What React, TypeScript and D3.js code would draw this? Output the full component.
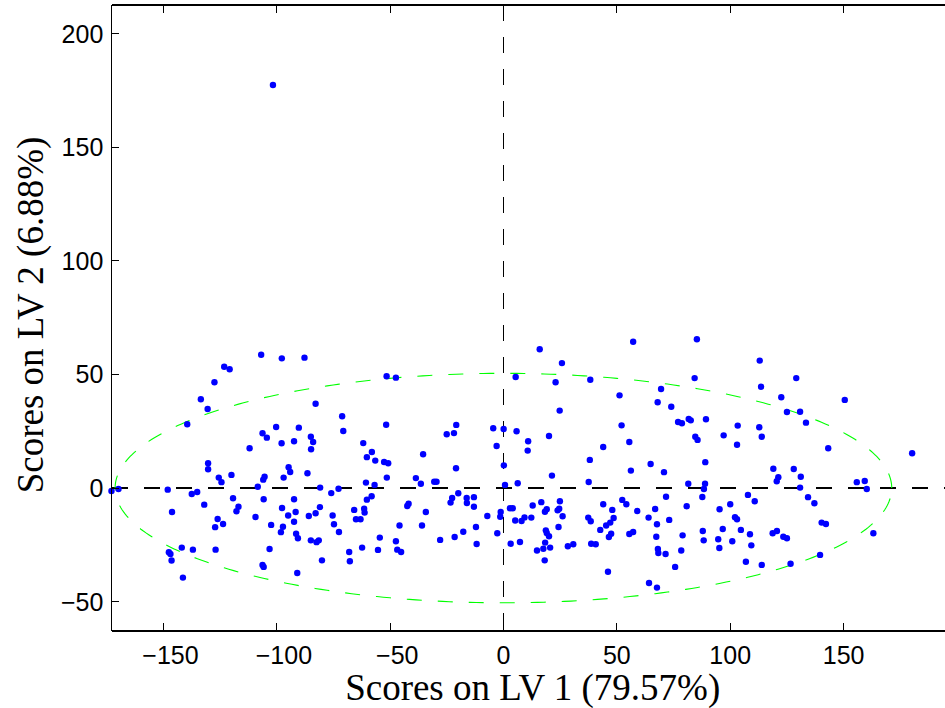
import React from 'react';
import * as d3 from 'd3';

const scoresLV1 = [
  -123.1, -120.7, -127.4, -133.4, -130.4, -139.4, -111.9, -130.2, -130.2, -125.5,
  -124.3, -119.9, -172.8, -169.7, -148.0, -137.4, -135.0, -131.9, -146.1, -119.2,
  -116.8, -117.7, -126.0, -127.1, -123.6, -141.8, -147.5, -146.8, -146.3, -136.9,
  -126.9, -141.3, -106.8, -97.7, -87.7, -51.5, -82.8, -71.1, -70.6, -51.7,
  -106.2, -104.3, -100.2, -90.2, -97.8, -92.3, -84.9, -83.9, -84.8, -61.8,
  -58.0, -60.2, -56.5, -52.6, -50.8, -94.7, -94.0, -86.4, -105.3, -105.9,
  -96.9, -108.3, -51.4, -60.6, -56.8, -80.8, -72.7, -75.9, -58.1, -60.2,
  -105.7, -92.3, -109.3, -97.6, -91.6, -94.9, -92.3, -80.9, -82.8, -85.8,
  -75.3, -74.7, -72.5, -65.8, -61.4, -61.2, -65.0, -63.0, -102.4, -97.2,
  -98.1, -91.4, -90.6, -84.9, -82.4, -81.4, -54.5, -55.3, -62.3, -68.0,
  -67.7, -80.0, -103.1, -106.2, -105.7, -90.9, -47.4, 5.4, -20.8, -25.0,
  -21.8, -4.5, 0.1, 5.8, 10.9, 10.7, -3.0, -35.4, -20.9, 0.2,
  -38.6, -36.4, -30.5, -29.5, 0.7, 6.3, -19.9, -22.6, -23.3, -16.2,
  -13.0, -16.1, -13.0, -41.8, -42.4, -34.2, -7.1, -1.2, -1.4, 2.9,
  4.1, 5.2, 8.0, 9.3, -45.8, -35.9, -47.4, -46.8, -45.1, -27.9,
  -21.5, -17.7, -12.1, -11.8, -2.7, 3.2, 7.3, 16.0, 57.2, 25.8,
  23.0, 38.3, 51.2, 69.5, 68.0, 24.8, 52.1, 55.5, 20.1, 44.0,
  38.1, 64.9, 70.8, 56.2, 21.4, 37.6, 71.7, 12.9, 16.7, 24.9,
  19.1, 18.3, 23.9, 24.6, 26.1, 12.3, 44.0, 48.0, 52.4, 54.2,
  59.0, 37.4, 38.5, 48.6, 47.1, 45.3, 42.7, 47.5, 46.5, 55.5,
  57.2, 64.0, 66.9, 67.7, 73.1, 67.4, 68.1, 68.3, 71.5, 24.3,
  18.7, 19.1, 20.1, 18.4, 14.8, 17.6, 20.6, 28.4, 30.8, 38.7,
  40.7, 18.2, 46.1, 64.2, 67.7, 85.3, 113.0, 129.1, 84.3, 113.6,
  122.5, 74.0, 130.8, 125.0, 77.0, 78.7, 81.7, 82.6, 89.3, 103.3,
  112.8, 113.9, 97.1, 103.0, 84.6, 85.6, 89.0, 119.0, 128.0, 121.2,
  120.5, 131.1, 130.8, 81.5, 88.9, 88.4, 87.7, 107.8, 110.8, 134.3,
  80.8, 95.3, 100.0, 102.1, 103.0, 104.7, 96.7, 87.9, 88.3, 94.7,
  95.2, 100.9, 108.7, 109.3, 118.7, 120.6, 123.4, 125.0, 79.0, 78.4,
  75.7, 106.9, 113.9, 126.6, 150.5, 133.4, 143.2, 180.2, 155.8, 159.3,
  160.2, 137.1, 140.3, 142.2, 163.1, 139.6, -101.6,
];

const scoresLV2 = [
  53.4, 52.3, 46.6, 39.1, 34.8, 28.1, 17.5, 10.9, 8.3, 4.6,
  2.6, 5.8, -1.3, -0.4, -0.7, -2.6, -1.7, -7.3, -10.5, -4.5,
  -8.2, -10.2, -13.6, -17.2, -15.8, -26.2, -28.2, -29.0, -31.9, -27.1,
  -27.1, -39.4, 58.7, 57.1, 57.4, 49.2, 37.1, 31.6, 25.1, 27.9,
  24.1, 22.2, 26.9, 26.6, 19.7, 20.6, 22.6, 20.3, 17.1, 19.8,
  15.9, 13.6, 12.1, 11.5, 10.9, 9.2, 7.1, 6.5, 5.0, 3.7,
  4.6, 0.6, 4.6, 2.4, 1.4, 0.2, -0.3, -2.2, -3.6, -5.1,
  -4.9, -4.9, -12.7, -8.8, -10.5, -12.1, -14.8, -8.4, -11.1, -12.3,
  -12.1, -15.9, -19.3, -9.6, -9.1, -10.8, -13.7, -13.7, -16.2, -17.0,
  -19.4, -20.1, -22.1, -23.0, -23.8, -23.0, -21.8, -27.2, -26.2, -28.1,
  -32.2, -31.8, -26.8, -33.8, -34.7, -37.4, 48.6, 48.9, 27.8, 23.7,
  24.2, 26.3, 26.0, 25.0, 20.6, 16.5, 18.5, 14.9, 8.7, 10.0,
  4.4, 1.9, 2.8, 2.8, 1.4, 2.1, -2.3, -4.4, -6.4, -4.4,
  -4.0, -6.6, -8.2, -6.9, -7.9, -10.5, -12.3, -10.5, -12.6, -8.9,
  -8.9, -14.3, -14.5, -12.9, -16.5, -16.5, -23.4, -27.1, -28.1, -22.8,
  -21.5, -19.2, -17.1, -24.6, -19.9, -24.5, -23.7, 61.1, 64.4, 55.0,
  46.6, 47.7, 40.8, 43.6, 37.8, 34.1, 27.6, 20.3, 22.9, 18.1,
  12.4, 10.6, 7.0, 7.7, 5.5, 2.7, -3.8, -7.7, -6.2, -5.8,
  -9.3, -10.4, -9.8, -9.1, -12.4, -13.0, -7.1, -9.6, -5.2, -7.1,
  -10.1, -13.0, -14.6, -13.2, -15.2, -16.5, -18.4, -20.1, -21.5, -20.2,
  -19.3, -13.0, -9.2, -15.9, -14.0, -21.4, -26.8, -28.6, -29.0, -17.1,
  -18.6, -19.8, -21.2, -24.0, -27.5, -26.7, -26.2, -25.6, -24.7, -24.5,
  -24.7, -31.8, -36.8, -41.8, -43.8, 65.5, 56.1, 48.4, 48.4, 44.6,
  40.0, 35.8, 33.6, 33.5, 29.1, 28.5, 30.4, 29.8, 30.3, 27.5,
  26.8, 22.6, 23.2, 19.1, 22.6, 21.2, 11.4, 8.5, 8.4, 4.8,
  3.0, 5.0, 0.2, 1.9, 1.9, -0.4, -3.9, -3.0, -5.8, -4.0,
  -8.0, -9.3, -7.1, -12.8, -13.7, -18.4, -18.0, -18.9, -23.0, -22.5,
  -26.4, -23.4, -20.3, -25.2, -19.9, -18.9, -21.4, -22.1, -20.8, -27.5,
  -34.7, -32.4, -33.8, -33.3, 38.8, 28.8, 17.5, 15.3, 2.6, 3.1,
  -0.4, -6.7, -15.2, -15.8, -19.9, -29.4, 177.4,
];

const xTicks = [-150, -100, -50, 0, 50, 100, 150];
const yTicks = [-50, 0, 50, 100, 150, 200];
const xLabel = 'Scores on LV 1 (79.57%)';
const yLabel = 'Scores on LV 2 (6.88%)';
const ellipseRadii = [171.2, 50.5];
const xDomain = [-172.7, 201.3];
const yDomain = [-62.9, 212.6];

const fmt = (v: number) => (v < 0 ? '\u2212' + Math.abs(v) : String(v));

export default function App() {
  const W = 945;
  const H = 708;
  const left = 111.7;
  const right = 960;
  const top = 5;
  const bottom = 631;
  const x = d3.scaleLinear().domain(xDomain).range([left, right]);
  const y = d3.scaleLinear().domain(yDomain).range([bottom, top]);
  const tickLen = 7.7;
  const tickFont = 25;
  const sansFamily = '"Liberation Sans", Arial, Helvetica, sans-serif';
  const serifFamily = '"Liberation Serif", "Times New Roman", Times, serif';

  const n = 360;
  const ellipsePts: [number, number][] = d3.range(n + 1).map((i) => {
    const t = (i / n) * 2 * Math.PI;
    return [ellipseRadii[0] * Math.cos(t), ellipseRadii[1] * Math.sin(t)];
  });
  const line = d3
    .line<[number, number]>()
    .x((d) => x(d[0]))
    .y((d) => y(d[1]));

  const points = scoresLV1.map((v, i) => [v, scoresLV2[i]] as [number, number]);

  return (
    <div style={{ position: 'absolute', left: 0, top: 0 }}>
      <svg width={W} height={H} style={{ display: 'block', background: '#fff' }}>
        <rect x={0} y={0} width={W} height={H} fill="#fff" />
        {/* reference dashed lines */}
        <line
          x1={x(xDomain[0])}
          x2={x(xDomain[1])}
          y1={y(0)}
          y2={y(0)}
          stroke="#000"
          strokeWidth={1.2}
          strokeDasharray="16,16"
          shapeRendering="crispEdges"
        />
        <line
          x1={x(0)}
          x2={x(0)}
          y1={y(yDomain[1])}
          y2={y(yDomain[0])}
          stroke="#000"
          strokeWidth={1.2}
          strokeDasharray="16,16"
          shapeRendering="crispEdges"
        />
        {/* confidence ellipse */}
        <path
          d={line(ellipsePts) || ''}
          fill="none"
          stroke="#00ff00"
          strokeWidth={1.1}
          strokeDasharray="15,16"
        />
        {/* points */}
        {points.map((p, i) => (
          <circle key={i} cx={x(p[0])} cy={y(p[1])} r={3.2} fill="#0000ff" />
        ))}
        {/* axes box */}
        <g shapeRendering="crispEdges">
          <line x1={left} x2={W} y1={bottom} y2={bottom} stroke="#000" strokeWidth={1.2} />
          <line x1={left} x2={W} y1={top} y2={top} stroke="#000" strokeWidth={1.2} />
          <line x1={left} x2={left} y1={top} y2={bottom} stroke="#000" strokeWidth={1.2} />
        </g>
        {/* x ticks */}
        {xTicks.map((t) => (
          <g key={'xt' + t}>
            <line x1={x(t)} x2={x(t)} y1={bottom} y2={bottom - tickLen} stroke="#000" strokeWidth={1} shapeRendering="crispEdges" />
            <line x1={x(t)} x2={x(t)} y1={top} y2={top + tickLen} stroke="#000" strokeWidth={1} shapeRendering="crispEdges" />
            <text
              x={x(t) + (t < 0 ? tickFont * 0.292 : 0)}
              y={664}
              textAnchor="middle"
              fontFamily={sansFamily}
              fontSize={tickFont}
              fill="#000"
            >
              {fmt(t)}
            </text>
          </g>
        ))}
        {/* y ticks */}
        {yTicks.map((t) => (
          <g key={'yt' + t}>
            <line x1={left} x2={left + tickLen} y1={y(t)} y2={y(t)} stroke="#000" strokeWidth={1} shapeRendering="crispEdges" />
            <text
              x={103.3}
              y={y(t) + 9}
              textAnchor="end"
              fontFamily={sansFamily}
              fontSize={tickFont}
              fill="#000"
            >
              {fmt(t)}
            </text>
          </g>
        ))}
        {/* axis labels */}
        <text x={532.7} y={700} textAnchor="middle" fontFamily={serifFamily} fontSize={37} fill="#000">
          {xLabel}
        </text>
        <text
          transform={`translate(43.3, 315) rotate(-90)`}
          textAnchor="middle"
          fontFamily={serifFamily}
          fontSize={37}
          fill="#000"
        >
          {yLabel}
        </text>
      </svg>
    </div>
  );
}
